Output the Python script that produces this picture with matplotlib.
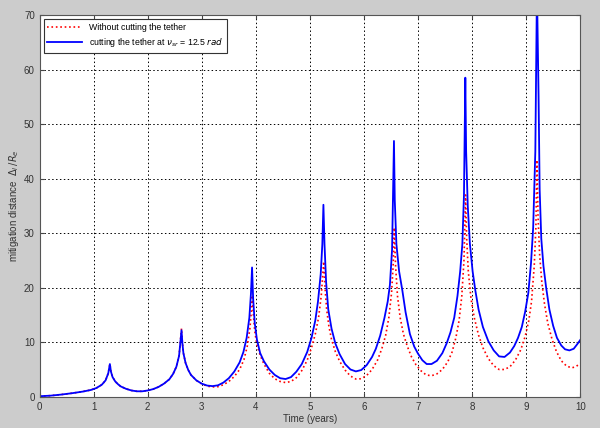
import numpy as np
import matplotlib
matplotlib.use("Agg")
import matplotlib.pyplot as plt

# values (years, mitigation distance)
t_cut = [0.0, 0.2, 0.4, 0.6, 0.8, 0.95, 1.05, 1.15, 1.22, 1.27, 1.30, 1.32, 1.35,
         1.4, 1.45, 1.5, 1.6, 1.7, 1.8, 1.9, 2.0, 2.1, 2.2, 2.3, 2.4, 2.47, 2.53, 2.58,
         2.625, 2.64, 2.66, 2.7, 2.75, 2.8, 2.9, 3.0, 3.1, 3.2, 3.3, 3.4, 3.5, 3.6,
         3.7, 3.77, 3.83, 3.88, 3.91, 3.93, 3.95, 3.98, 4.02, 4.08, 4.15, 4.25, 4.35,
         4.45, 4.55, 4.65, 4.75, 4.85, 4.95, 5.03, 5.1, 5.15, 5.2, 5.23, 5.25, 5.27,
         5.3, 5.34, 5.4, 5.47, 5.55, 5.65, 5.75, 5.85, 5.95, 6.05, 6.15, 6.22, 6.3,
         6.38, 6.44, 6.48, 6.52, 6.555, 6.57, 6.6, 6.65, 6.71, 6.77, 6.85, 6.93, 7.0,
         7.08, 7.16, 7.25, 7.35, 7.45, 7.53, 7.6, 7.67, 7.73, 7.78, 7.82, 7.85, 7.875,
         7.89, 7.92, 7.96, 8.01, 8.06, 8.12, 8.2, 8.3, 8.4, 8.5, 8.6, 8.7, 8.78, 8.85,
         8.92, 8.98, 9.04, 9.09, 9.13, 9.17, 9.2, 9.23, 9.25, 9.28, 9.32, 9.37, 9.43,
         9.5, 9.57, 9.65, 9.72, 9.8, 9.88, 9.95, 10.0]
d_cut = [0.1, 0.2, 0.4, 0.65, 0.95, 1.25, 1.6, 2.2, 3.0, 4.3, 6.0, 4.6, 3.6,
         2.8, 2.3, 1.9, 1.45, 1.15, 1.0, 1.0, 1.15, 1.4, 1.8, 2.4, 3.2, 4.2, 5.5, 7.5,
         12.2, 10.0, 8.0, 6.2, 4.9, 4.0, 3.0, 2.4, 2.05, 1.95, 2.1, 2.6, 3.4, 4.6,
         6.3, 8.2, 10.8, 14.5, 19.0, 23.7, 18.0, 13.5, 10.5, 8.0, 6.5, 5.0, 4.0,
         3.4, 3.25, 3.6, 4.6, 6.0, 8.2, 10.8, 14.0, 17.5, 22.5, 28.0, 35.2, 28.0,
         21.0, 16.0, 12.5, 9.8, 7.8, 6.0, 5.0, 4.65, 4.9, 5.8, 7.3, 8.8, 11.2,
         14.5, 17.5, 20.5, 27.0, 46.9, 36.0, 28.0, 23.0, 19.5, 15.5, 11.5, 9.2, 7.9,
         6.7, 6.0, 6.0, 6.6, 8.0, 9.8, 11.8, 14.5, 18.5, 23.0, 28.0, 37.0, 58.5,
         45.0, 35.0, 28.0, 23.0, 19.5, 16.0, 12.8, 10.2, 8.5, 7.4, 7.3, 8.1, 9.3, 10.8,
         12.8, 15.5, 19.0, 24.5, 31.0, 45.0, 75.0, 55.0, 38.0, 29.0, 24.0, 20.0, 16.0,
         13.0, 10.8, 9.4, 8.7, 8.5, 8.8, 9.7, 10.4]

t_nocut = [0.0, 0.2, 0.4, 0.6, 0.8, 0.95, 1.05, 1.15, 1.22, 1.27, 1.30, 1.32, 1.35,
           1.4, 1.45, 1.5, 1.6, 1.7, 1.8, 1.9, 2.0, 2.1, 2.2, 2.3, 2.4, 2.47, 2.53, 2.58,
           2.625, 2.64, 2.66, 2.7, 2.75, 2.8, 2.9, 3.0, 3.1, 3.2, 3.3, 3.4, 3.5, 3.6,
           3.7, 3.78, 3.84, 3.89, 3.92, 3.935, 3.955, 3.98, 4.02, 4.08, 4.15, 4.25,
           4.35, 4.45, 4.55, 4.65, 4.75, 4.85, 4.95, 5.03, 5.1, 5.16, 5.21, 5.255, 5.28,
           5.31, 5.35, 5.4, 5.47, 5.55, 5.65, 5.75, 5.85, 5.95, 6.05, 6.15, 6.25, 6.33,
           6.4, 6.46, 6.51, 6.54, 6.56, 6.585, 6.62, 6.67, 6.73, 6.8, 6.88, 6.96, 7.05,
           7.15, 7.25, 7.35, 7.45, 7.55, 7.63, 7.7, 7.76, 7.81, 7.85, 7.88, 7.9, 7.93,
           7.98, 8.04, 8.12, 8.2, 8.3, 8.4, 8.5, 8.6, 8.7, 8.8, 8.9, 8.98, 9.05, 9.1,
           9.15, 9.18, 9.2, 9.22, 9.25, 9.29, 9.34, 9.4, 9.48, 9.56, 9.65, 9.75, 9.85,
           9.93, 10.0]
d_nocut = [0.1, 0.2, 0.4, 0.65, 0.95, 1.25, 1.6, 2.2, 3.0, 4.3, 6.0, 4.6, 3.6,
           2.8, 2.3, 1.9, 1.45, 1.15, 1.0, 1.0, 1.15, 1.4, 1.8, 2.4, 3.2, 4.2, 5.5, 7.5,
           12.5, 10.0, 8.0, 6.2, 4.9, 4.0, 3.0, 2.35, 1.95, 1.8, 1.85, 2.2, 2.8, 3.7,
           5.0, 6.8, 9.2, 12.5, 16.0, 18.6, 15.0, 12.0, 9.5, 7.6, 6.0, 4.3,
           3.3, 2.8, 2.6, 2.8, 3.5, 4.8, 6.7, 9.0, 11.5, 14.5, 18.5, 24.8, 20.0,
           16.0, 13.0, 10.5, 8.3, 6.5, 4.9, 3.8, 3.25, 3.3, 3.9, 5.0, 6.7, 8.8,
           11.2, 14.5, 19.0, 24.0, 31.0, 24.0, 18.5, 14.5, 11.5, 9.3, 7.3, 5.9, 4.8,
           4.0, 3.85, 4.2, 5.0, 6.4, 8.2, 10.8, 14.0, 18.5, 25.0, 37.0, 29.0, 23.0,
           18.0, 14.5, 11.3, 9.0, 7.0, 5.7, 5.0, 5.0, 5.5, 6.7, 8.6, 11.0, 14.0, 17.5,
           24.0, 31.0, 43.4, 33.0, 26.0, 21.0, 17.0, 13.5, 10.5, 8.3, 6.6, 5.6, 5.3,
           5.6, 6.1]

plt.rcParams.update({"font.family": ["Liberation Sans", "DejaVu Sans"], "font.size": 7})

fig = plt.figure(figsize=(6.0, 4.28), dpi=100, facecolor="#cccccc")
ax = fig.add_axes([0.066, 0.073, 0.901, 0.892])

ax.plot(t_nocut, d_nocut, ":", color="#ff0000", lw=1.2, label="Without cutting the tether")
ax.plot(t_cut, d_cut, "-", color="#0000ff", lw=1.3,
        label=r"cutting the tether at $\nu_{sr}$ = 12.5 $rad$")

ax.set_xlim(0, 10)
ax.set_ylim(0, 70)
ax.set_xticks(range(0, 11))
ax.set_yticks(range(0, 71, 10))
ax.grid(True, ls=(0, (1.5, 2.5)), color="black", lw=0.7)
ax.tick_params(direction="in", top=True, right=True, length=3, colors="#444444",
               labelcolor="#333333", labelsize=7)
for s in ax.spines.values():
    s.set_color("#555555")
ax.set_xlabel("Time (years)", color="#333333", labelpad=2)
ax.set_ylabel(r"mitigation distance  $\Delta_l\,/R_e$", color="#333333", labelpad=2)

leg = ax.legend(loc="upper left", fontsize=6.3, frameon=True, fancybox=False,
                edgecolor="#333333", borderpad=0.4, handlelength=4.0, framealpha=1)
leg.get_frame().set_linewidth(0.8)

fig.savefig("out.png", dpi=100, facecolor=fig.get_facecolor())
